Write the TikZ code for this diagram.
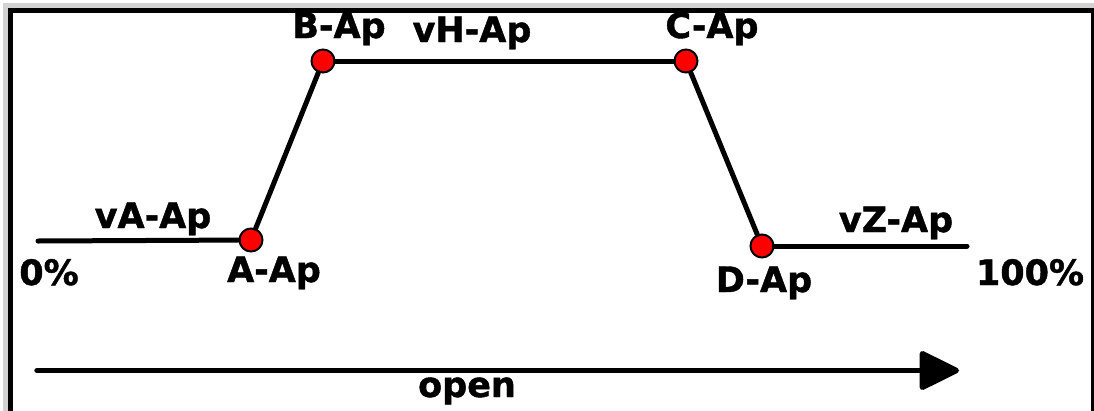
\documentclass[tikz,border=0pt]{standalone}
\usepackage{fontspec}
\setmainfont{DejaVu Sans}
\newfontfamily\lblfont{DejaVu Sans Bold}[FakeBold=1.2]
\usetikzlibrary{arrows.meta}
\begin{document}
\begin{tikzpicture}[x=1pt,y=-1pt,
    dot/.style={circle,draw=black,fill=red,line width=2pt,inner sep=0pt,minimum size=23pt},
    lbl/.style={font=\fontsize{35}{40}\lblfont,anchor=base,inner sep=0pt},
    seg/.style={line width=5pt,line cap=round}]
  \useasboundingbox (0,0) rectangle (1094,410);
  \fill[white] (0,0) rectangle (1094,410);
  % frame
  \draw[gray!35,line width=7pt] (6,6) rectangle (1100,420);
  \draw[line width=4.5pt] (10.5,10.5) rectangle (1093,420);
  % points
  \draw
    (251,240) node[dot] (A){}
    (323,61) node[dot] (B){}
    (686,61) node[dot] (C){}
    (762,246) node[dot] (D){};
  \coordinate (start) at (38,241);
  \coordinate (stop) at (967,246);
  \begin{scope}[seg]
    \draw (start) to (A);
    \draw (A) to (B);
    \draw (B) to (C);
    \draw (C) to (D);
    \draw (D) to (stop);
  \end{scope}
  % labels
  \node[lbl] (vA) at (153,228) {vA-Ap};
  \node[lbl] (zero) at (49,285) {0\%};
  \node[lbl] (Alab) at (274,282) {A-Ap};
  \node[lbl] (Blab) at (339,38) {B-Ap};
  \node[lbl] (vH) at (472,42) {vH-Ap};
  \node[lbl] (Clab) at (712,38) {C-Ap};
  \node[lbl] (Dlab) at (764,292) {D-Ap};
  \node[lbl] (vZ) at (896,232) {vZ-Ap};
  \node[lbl] (full) at (1030,285) {100\%};
  % axis
  \coordinate (left) at (37,370.5);
  \coordinate (right) at (959,370.5);
  \draw[line width=5.5pt,line cap=round,-{Triangle[length=43pt,width=41pt,round]}] (left) to (right);
  \node[lbl] (open) at (467,397) {open};
\end{tikzpicture}
\end{document}
